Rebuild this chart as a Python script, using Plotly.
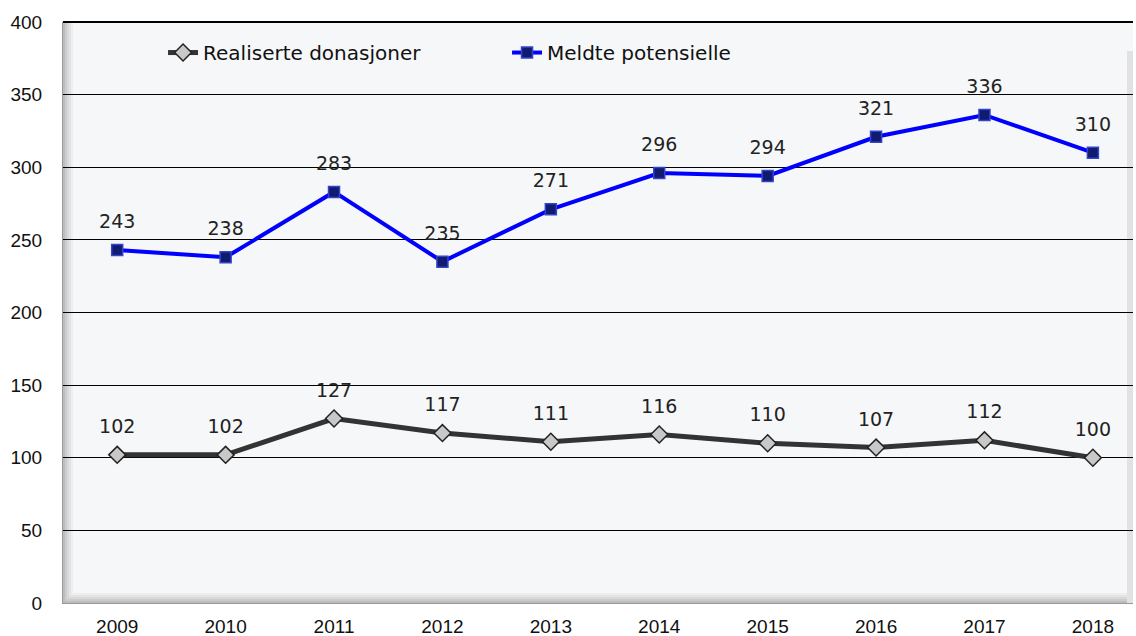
import plotly.graph_objects as go

years = ["2009", "2010", "2011", "2012", "2013", "2014", "2015", "2016", "2017", "2018"]
realiserte = [102, 102, 127, 117, 111, 116, 110, 107, 112, 100]
meldte = [243, 238, 283, 235, 271, 296, 294, 321, 336, 310]
y_ticks = [0, 50, 100, 150, 200, 250, 300, 350, 400]

series = [
    ("Realiserte donasjoner", realiserte, "#333333", 5,
     dict(symbol="diamond", size=13, color="#c8c8c8", line=dict(color="#222222", width=1.5))),
    ("Meldte potensielle", meldte, "#0000ff", 4,
     dict(symbol="square", size=11, color="#101a6e", line=dict(color="#3344cc", width=1.5))),
]

fig = go.Figure()
for name, vals, color, width, marker in series:
    fig.add_trace(go.Scatter(
        x=years, y=vals, name=name, mode="lines+markers",
        line=dict(color=color, width=width), marker=marker,
    ))
for name, vals, color, width, marker in series:
    # value labels, lifted a bit above the markers
    fig.add_trace(go.Scatter(
        x=years, y=vals, mode="markers+text", text=[str(v) for v in vals],
        textposition="top center", showlegend=False, hoverinfo="skip",
        marker=dict(size=26, opacity=0),
        textfont=dict(family="DejaVu Sans", size=19, color="#222222"),
    ))

# bevel-like frame on left, bottom and right of the plot area
pw, ph = 1070.0, 581.0
greys = ["#bdbdbd", "#cccccc", "#d9d9d9", "#e4e4e4", "#eceef0"]
for i, c in enumerate(greys):
    fig.add_shape(type="rect", xref="paper", yref="paper",
                  x0=i * 2 / pw, x1=(i + 1) * 2 / pw, y0=(i * 2) / ph, y1=1,
                  fillcolor=c, line=dict(width=0), layer="below")
    fig.add_shape(type="rect", xref="paper", yref="paper",
                  x0=i * 2 / pw, x1=1, y0=i * 2 / ph, y1=(i + 1) * 2 / ph,
                  fillcolor=c, line=dict(width=0), layer="below")
fig.add_shape(type="rect", xref="paper", yref="paper", x0=1 - 6 / pw, x1=1, y0=0, y1=0.95,
              fillcolor="#e2e2e2", line=dict(width=0), layer="below")
fig.add_shape(type="line", xref="paper", yref="paper", x0=0, x1=1, y0=1, y1=1,
              line=dict(color="#000000", width=2))

fig.update_layout(
    width=1136, height=636,
    margin=dict(l=63, r=3, t=22, b=33),
    paper_bgcolor="white", plot_bgcolor="#f5f7f9",
    font=dict(family="Liberation Sans, Arial", size=19, color="#111111"),
    showlegend=True,
    legend=dict(orientation="h", x=0.0935, y=0.981, xanchor="left", yanchor="top",
                bgcolor="rgba(0,0,0,0)", font=dict(family="DejaVu Sans", size=20, color="#111111"),
                entrywidth=299, entrywidthmode="pixels", tracegroupgap=0),
    xaxis=dict(type="category", range=[-0.5, 9.37], showgrid=False, zeroline=False,
               showline=True, linecolor="#999999", linewidth=1, ticks="",
               tickfont=dict(size=19), automargin=False, ticklabelstandoff=6),
    yaxis=dict(range=[0, 400], tickvals=y_ticks, showgrid=True, gridcolor="#000000",
               gridwidth=1, zeroline=False, showline=True, linecolor="#999999",
               ticks="", tickfont=dict(size=19), automargin=False, ticklabelstandoff=16),
)

fig.write_html("out.html", config={"displayModeBar": False},
               post_script="document.body.style.margin='0';document.body.style.overflow='hidden';")
